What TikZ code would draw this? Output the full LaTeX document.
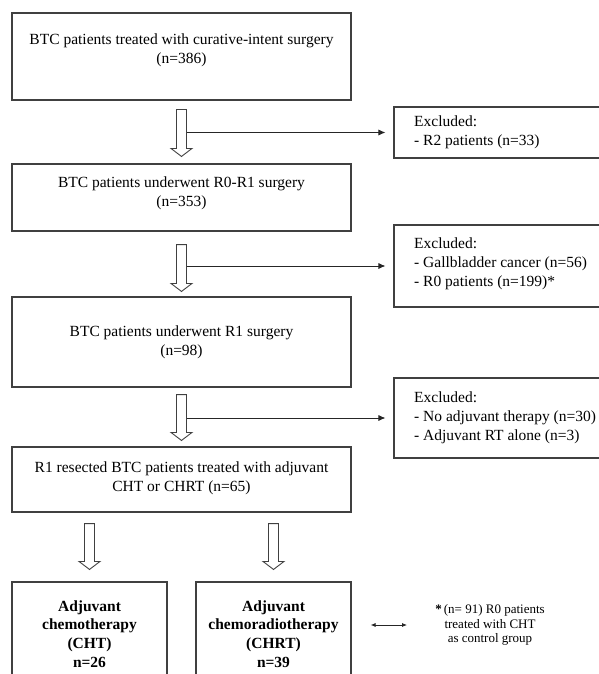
\documentclass[tikz,border=0pt]{standalone}
\usepackage{fontspec}
\setmainfont{Liberation Serif}
\usetikzlibrary{arrows.meta,calc}
\tikzset{
 box/.style={draw=black!75,line width=1.1pt,rectangle,inner sep=0pt},
 txt/.style={align=center,font=\fontsize{15.5}{19}\selectfont,inner sep=0pt},
 extxt/.style={align=left,font=\fontsize{15.5}{19}\selectfont,inner sep=0pt,anchor=west},
 btxt/.style={align=center,font=\fontsize{15.5}{18.7}\selectfont\bfseries,inner sep=0pt},
 fntxt/.style={align=center,font=\fontsize{13}{14.5}\selectfont,inner sep=0pt},
 blockarrow/.style={draw=black!75,line width=0.9pt,fill=white,line join=miter},
 excl/.style={-{Latex[length=7pt,width=6pt]},line width=0.8pt,draw=black!85},
 dbl/.style={{Latex[length=5pt,width=4pt]}-{Latex[length=5pt,width=4pt]},line width=0.8pt,draw=black!85},
}
\newcommand\blkarrow[2]{%
 \draw[blockarrow] let \p1=(#1), \p2=(#2) in
 (\x1-5pt,\y1) -- (\x1-5pt,\y2+8pt) -- (\x1-10.5pt,\y2+8pt) -- (\x2,\y2) --
 (\x1+10.5pt,\y2+8pt) -- (\x1+5pt,\y2+8pt) -- (\x1+5pt,\y1) -- cycle;}
\begin{document}
\begin{tikzpicture}[x=1pt,y=-1pt]
\useasboundingbox (0,0) rectangle (598,674);
% main boxes
\node[box,minimum width=339,minimum height=87] (b1) at (181.5,56.5) {};
\node[txt] (t1) at (181.5,50.5) {BTC patients treated with curative-intent surgery\\(n=386)};
\node[box,minimum width=339,minimum height=67] (b2) at (181.5,197.5) {};
\node[txt] (t2) at (181.5,193.5) {BTC patients underwent R0-R1 surgery\\(n=353)};
\node[box,minimum width=339,minimum height=90] (b3) at (181.5,342) {};
\node[txt] (t3) at (181.5,342.5) {BTC patients underwent R1 surgery\\(n=98)};
\node[box,minimum width=339,minimum height=65] (b4) at (181.5,479.5) {};
\node[txt] (t4) at (181.5,478) {R1 resected BTC patients treated with adjuvant\\CHT or CHRT (n=65)};
\node[box,minimum width=155,minimum height=138] (b5) at (89.5,651) {};
\node[btxt] (t5) at (89.5,634) {Adjuvant\\chemotherapy\\(CHT)\\n=26};
\node[box,minimum width=155,minimum height=138] (b6) at (273.5,651) {};
\node[btxt] (t6) at (273.5,634) {Adjuvant\\chemoradiotherapy\\(CHRT)\\n=39};
% excluded boxes
\node[box,minimum width=256,minimum height=51] (e1) at (522,132.5) {};
\node[extxt] (x1) at (414,132.5) {Excluded:\\- R2 patients (n=33)};
\node[box,minimum width=256,minimum height=82] (e2) at (522,266) {};
\node[extxt] (x2) at (414,264) {Excluded:\\- Gallbladder cancer (n=56)\\- R0 patients (n=199)*};
\node[box,minimum width=256,minimum height=80] (e3) at (522,418) {};
\node[extxt] (x3) at (414,418) {Excluded:\\- No adjuvant therapy (n=30)\\- Adjuvant RT alone (n=3)};
% footnote
\node[fntxt] (fn) at (490,625) {\textbf{*}\,(n= 91) R0 patients\\treated with CHT\\as control group};
% block arrows
\coordinate (a1s) at ($(b1.south)+(0,9)$);
\coordinate (a1e) at ($(b2.north)+(0,-7)$);
\coordinate (a2s) at ($(b2.south)+(0,13)$);
\coordinate (a2e) at ($(b3.north)+(0,-5)$);
\coordinate (a3s) at ($(b3.south)+(0,7)$);
\coordinate (a3e) at ($(b4.north)+(0,-6)$);
\coordinate (a4s) at ($(b5.north |- b4.south)+(0,11)$);
\coordinate (a4e) at ($(b5.north)+(0,-12)$);
\coordinate (a5s) at ($(b6.north |- b4.south)+(0,11)$);
\coordinate (a5e) at ($(b6.north)+(0,-12)$);
\blkarrow{a1s}{a1e}
\blkarrow{a2s}{a2e}
\blkarrow{a3s}{a3e}
\blkarrow{a4s}{a4e}
\blkarrow{a5s}{a5e}
% exclusion connectors
\coordinate (h1) at ($(a1s)+(5.5,0)$);
\coordinate (h2) at ($(a2s)+(5.5,0)$);
\coordinate (h3) at ($(a3s)+(5.5,0)$);
\draw[excl,shorten >=8pt] (e1.west -| h1) -- (e1.west);
\draw[excl,shorten >=8pt] (e2.west -| h2) -- (e2.west);
\draw[excl,shorten >=8pt] (e3.west -| h3) -- (e3.west);
% double arrow
\draw[dbl,shorten <=19pt,shorten >=28pt] (b6.east |- fn.west) -- (fn.west);
\end{tikzpicture}
\end{document}
